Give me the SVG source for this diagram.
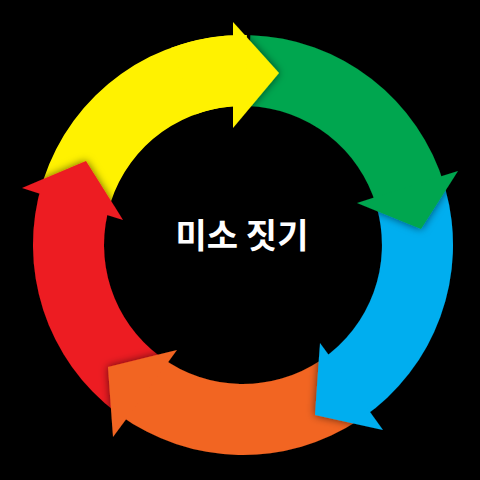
<svg xmlns="http://www.w3.org/2000/svg" width="480" height="480" viewBox="0 0 480 480">
<defs>
<filter id="sh" x="-20%" y="-20%" width="140%" height="140%">
<feDropShadow dx="0" dy="0" stdDeviation="4" flood-color="#000" flood-opacity="0.6"/>
</filter>
<style>
.y{fill:#FFF200}.g{fill:#00A650}.b{fill:#00AEEF}.o{fill:#F26522}.r{fill:#ED1C24}
.t{font-family:"Noto Sans CJK KR","Noto Sans",sans-serif;font-weight:700;font-size:34px;fill:#fff}
</style>
</defs>
<rect width="480" height="480" fill="#000"/>
<g id="connectors">
<path class="y" d="M43.28 180.11 A210 210 0 0 1 246.66 35.03 L245.43 106.02 A139 139 0 0 0 110.8 202.05 Z"/>
<g id="red-arrow" filter="url(#sh)">
<path class="r" d="M116.62 412.71 A210 210 0 0 1 42.18 183.6 L110.07 204.36 A139 139 0 0 0 159.35 356.01 Z"/>
<polygon class="r" points="123,220 86,161 22,188"/>
</g>
<g id="orange-arrow" filter="url(#sh)">
<path class="o" d="M358.91 420.12 A210 210 0 0 1 119.56 414.89 L161.3 357.45 A139 139 0 0 0 319.72 360.91 Z"/>
<polygon class="o" points="177,350 108,367 113,437"/>
</g>
<g id="blue-arrow" filter="url(#sh)">
<path class="b" d="M445.36 188.88 A210 210 0 0 1 361.95 418.07 L321.73 359.55 A139 139 0 0 0 376.94 207.85 Z"/>
<polygon class="b" points="320,343 315,415 383,430"/>
</g>
<g id="green-arrow" filter="url(#sh)">
<path class="g" d="M250.33 35.13 A210 210 0 0 1 444.35 185.36 L376.28 205.52 A139 139 0 0 0 247.85 106.08 Z"/>
<polygon class="g" points="458,171 421,229 357,203"/>
</g>
<g id="yellow-arrow-head">
<polygon class="y" points="233,22 279,73 233,128" filter="url(#sh)"/>
<path class="y" d="M171.18 47.66 A210 210 0 0 1 246.66 35.03 L245.43 106.02 A139 139 0 0 0 195.46 114.38 Z"/>
</g>
</g>
<g id="center-label">
<text class="t" x="242" y="248" text-anchor="middle">미소 짓기</text>
</g>
</svg>
